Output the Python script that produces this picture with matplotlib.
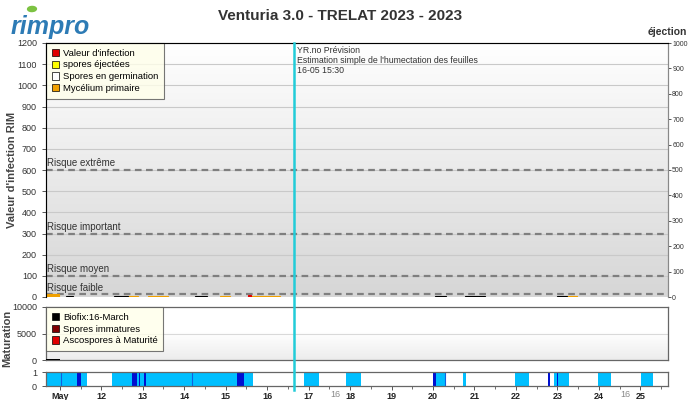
import numpy as np
import matplotlib
matplotlib.use("Agg")
import matplotlib.pyplot as plt
from matplotlib.patches import Patch, Ellipse
from matplotlib.lines import Line2D

plt.rcParams['font.family'] = ['Liberation Sans', 'DejaVu Sans']

# time axis: day of May (fractional)
x_start, x_end = 10.667, 25.667
day_ticks = [11, 12, 13, 14, 15, 16, 17, 18, 19, 20, 21, 22, 23, 24, 25]
day_labels = ['May', '12', '13', '14', '15', '16', '17', '18', '19', '20',
              '21', '22', '23', '24', '25']
forecast_time = 16.646  # 16-05 15:30

# risk thresholds (RIM)
risk_levels = [600, 300, 100, 12]
risk_names = ['Risque extrême', 'Risque important', 'Risque moyen', 'Risque faible']

# small bars near zero in the RIM panel: (start, end, value)
mycelium = [(10.68, 10.97, 12), (12.54, 12.88, 6), (13.12, 13.62, 6),
            (14.87, 15.10, 5), (15.60, 16.32, 6), (23.24, 23.48, 6)]
germination = [(11.14, 11.31, 5), (12.30, 12.64, 5), (14.27, 14.56, 5),
               (20.05, 20.32, 5), (20.78, 21.26, 5), (23.00, 23.24, 5)]
infection = [(15.53, 15.60, 8)]

# maturation panel
biofix = [(10.67, 11.0, 120)]

# leaf wetness strip
wet_start = [10.667, 12.27, 16.90, 17.91, 19.99, 20.73, 21.97, 22.92, 23.98, 25.02]
wet_end = [11.66, 15.67, 17.26, 18.27, 20.30, 20.80, 22.32, 23.28, 24.30, 25.30]
dark_start = [11.42, 12.75, 12.90, 13.03, 15.28, 19.99, 22.77, 22.99]
dark_end = [11.50, 12.87, 12.93, 13.07, 15.44, 20.07, 22.82, 23.02]
mid_lines = [11.02, 14.18, 20.30]

fig = plt.figure(figsize=(6.88, 4.0), dpi=100)
L, R = 46 / 688, 668 / 688
ax = fig.add_axes([L, 1 - 297 / 400, R - L, (297 - 43) / 400])
axm = fig.add_axes([L, 1 - 360 / 400, R - L, (360 - 307) / 400])
axs = fig.add_axes([L, 1 - 386 / 400, R - L, (386 - 372) / 400])

tick_kw = dict(labelsize=6.5, colors='#555555', labelcolor='#333333', length=3, width=0.7)

# ---- main RIM panel
grad = np.linspace(0, 1, 256).reshape(-1, 1)
ax.imshow(grad, extent=[x_start, x_end, 0, 1200], aspect='auto', origin='lower',
          cmap=matplotlib.colors.LinearSegmentedColormap.from_list('g', ['#d6d6d6', '#ffffff']),
          zorder=0)
for v in range(100, 1200, 100):
    ax.axhline(v, color='#c9c9c9', lw=0.8, zorder=1)
for lvl, name in zip(risk_levels, risk_names):
    ax.axhline(lvl, color='#7f7f7f', lw=1.6, ls=(0, (3, 2)), zorder=2)
    ax.text(x_start + 0.03, lvl + 8, name, fontsize=7, color='#333333', va='bottom', zorder=3)

for data, fc, ec in [(mycelium, '#f0a000', '#f0a000'), (germination, 'white', 'black'),
                     (infection, '#e00000', '#e00000')]:
    s = [d[0] for d in data]
    w = [d[1] - d[0] for d in data]
    h = [d[2] for d in data]
    ax.bar(s, h, width=w, align='edge', color=fc, edgecolor=ec, lw=0.8, zorder=4)

ax.set_xlim(x_start, x_end)
ax.set_ylim(0, 1200)
ax.set_yticks(range(0, 1201, 100))
ax.tick_params(axis='y', **tick_kw)
ax.set_xticks([])
ax.set_ylabel("Valeur d'infection RIM", fontsize=8, color='#444444', fontweight='bold')
ax.yaxis.set_label_coords(-0.047, 0.5)
for sp in ax.spines.values():
    sp.set_color('#888888')
    sp.set_linewidth(0.8)
ax.spines['bottom'].set_visible(False)

ax2 = ax.twinx()
ax2.set_ylim(0, 1000)
ax2.set_yticks(range(0, 1001, 100))
ax2.tick_params(axis='y', labelsize=5, colors='#555555', labelcolor='#333333',
                length=2, width=0.7, pad=1)
ax2.spines['right'].set_color('#888888')
ax2.spines['bottom'].set_visible(False)
fig.text(687 / 688, 1 - 32 / 400, 'éjection', fontsize=7.5, fontweight='bold',
         color='#333333', va='center', ha='right')

handles = [Patch(fc='#e00000', ec='black', lw=0.5), Patch(fc='#ffff00', ec='black', lw=0.5),
           Patch(fc='white', ec='black', lw=0.5), Patch(fc='#f0a000', ec='black', lw=0.5)]
leg = ax.legend(handles, ["Valeur d'infection", 'spores éjectées', 'Spores en germination',
                          'Mycélium primaire'],
                loc='upper left', bbox_to_anchor=(0, 1), fontsize=6.8, frameon=True,
                fancybox=False, handlelength=0.8, handleheight=0.8, handletextpad=0.4,
                labelspacing=0.3, borderpad=0.6, borderaxespad=0)
leg.get_frame().set_facecolor('#ffffea')
leg.get_frame().set_edgecolor('#555555')
leg.get_frame().set_linewidth(0.8)
leg.set_zorder(10)

ax.text(forecast_time + 0.07, 1185,
        "YR.no Prévision\nEstimation simple de l'humectation des feuilles\n16-05 15:30",
        fontsize=6.3, color='#333333', va='top', linespacing=1.15, zorder=5)

# ---- maturation panel
axm.imshow(grad, extent=[x_start, x_end, 0, 10000], aspect='auto', origin='lower',
           cmap=matplotlib.colors.LinearSegmentedColormap.from_list('g2', ['#ececec', '#ffffff', '#ffffff']),
           zorder=0)
axm.axhline(5000, color='#d9d9d9', lw=0.8, zorder=1)
for s, e, v in biofix:
    axm.bar(s, v, width=e - s, align='edge', color='black', zorder=3)
axm.set_xlim(x_start, x_end)
axm.set_ylim(0, 10000)
axm.set_yticks([0, 5000, 10000])
axm.tick_params(axis='y', **tick_kw)
axm.set_xticks([])
axm.set_ylabel('Maturation', fontsize=8, color='#444444', fontweight='bold')
axm.yaxis.set_label_coords(-0.054, 0.4)
for sp in axm.spines.values():
    sp.set_color('#666666')
    sp.set_linewidth(0.9)
handles2 = [Patch(fc='black', ec='black', lw=0.5), Patch(fc='#800000', ec='black', lw=0.5),
            Patch(fc='#e00000', ec='black', lw=0.5)]
leg2 = axm.legend(handles2, ['Biofix:16-March', 'Spores immatures', 'Ascospores à Maturité'],
                  loc='upper left', bbox_to_anchor=(0, 1), fontsize=6.8, frameon=True,
                  fancybox=False, handlelength=0.8, handleheight=0.8, handletextpad=0.4,
                  labelspacing=0.3, borderpad=0.6, borderaxespad=0)
leg2.get_frame().set_facecolor('#ffffea')
leg2.get_frame().set_edgecolor('#555555')
leg2.get_frame().set_linewidth(0.8)

# ---- wetness strip
for s, e in zip(wet_start, wet_end):
    axs.axvspan(s, e, color='#00bfff', lw=0, zorder=1)
for s, e in zip(dark_start, dark_end):
    axs.axvspan(s, e, color='#0010d0', lw=0, zorder=2)
for m in mid_lines:
    axs.axvline(m, color='#1060e0', lw=0.8, zorder=2)
axs.set_xlim(x_start, x_end)
axs.set_ylim(0, 1)
axs.set_yticks([0, 1])
axs.tick_params(axis='y', **tick_kw)
axs.set_xticks(day_ticks)
axs.set_xticklabels(day_labels, fontweight='bold')
axs.set_xticks(np.arange(11.5, 25.6, 1), minor=True)
axs.tick_params(axis='x', which='major', labelsize=6.5, colors='#555555', labelcolor='#222222',
                length=3, width=0.7, pad=1.5)
axs.tick_params(axis='x', which='minor', colors='#555555', length=2, width=0.6)
for sp in axs.spines.values():
    sp.set_color('#666666')
    sp.set_linewidth(0.9)
for hx in [17.64, 24.63]:
    axs.text(hx, -0.28, '16', transform=axs.get_xaxis_transform(), fontsize=6.5,
             color='#888888', ha='center', va='top')

# forecast line across all panels, continuous through the gaps
fx = ax.transData.transform((forecast_time, 0))[0] / fig.bbox.width
fig.add_artist(Line2D([fx, fx], [1 - 390 / 400, 1 - 43 / 400], transform=fig.transFigure,
                      color='#22ccd8', lw=1.8, zorder=20))

# title and logo
fig.text(340 / 688, 1 - 16 / 400, 'Venturia 3.0 - TRELAT 2023 - 2023', fontsize=11,
         fontweight='bold', color='#333333', ha='center', va='center')
fig.text(11 / 688, 1 - 27 / 400, 'rimpro', fontsize=18, fontstyle='italic', fontweight='bold',
         color='#2d7bb5', ha='left', va='center')
fig.patches.append(Ellipse((32 / 688, 1 - 9 / 400), 9 / 688, 5 / 400, angle=40,
                           transform=fig.transFigure, color='#7cc242', zorder=5))

fig.savefig('out.png', dpi=100)
